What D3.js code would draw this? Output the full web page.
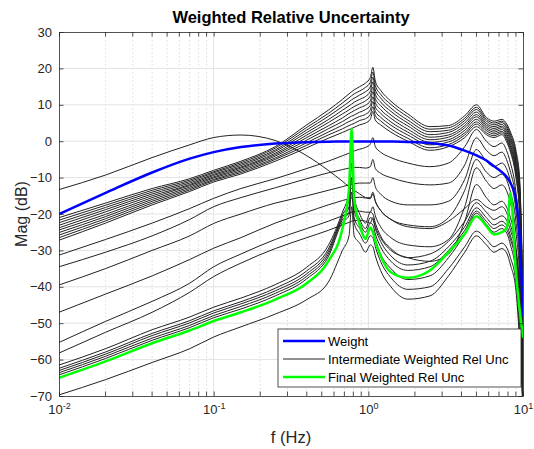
<!DOCTYPE html>
<meta charset="utf-8">
<script src="https://cdn.jsdelivr.net/npm/d3@7"></script>
<style type="text/css">
body { margin: 0; background: #fff; }
text { font-family: "Liberation Sans", Arial, Helvetica, sans-serif; }
.axis path, .axis line { stroke: #262626; stroke-width: 0.8; }
.axis text { fill: #262626; font-size: 13px; }
.grid-major { stroke: #e3e3e3; stroke-width: 1; }
.grid-minor { stroke: #d4d4d4; stroke-width: 0.8; stroke-dasharray: 1.5,2.5; }
path.inter { fill: none; stroke: #222; stroke-width: 1; }
path.weight { fill: none; stroke: #0000ff; stroke-width: 2.5; }
path.final { fill: none; stroke: #00ff00; stroke-width: 2.5; }
</style>
<body>
<div id="container"></div>
<script>

//-----------------------------DATA-----------------------------//
// frequency grid (Hz), shared by every curve
var freq = [0.01, 0.02, 0.04, 0.07, 0.1, 0.15, 0.25, 0.4, 0.55, 0.68, 0.75, 0.78, 0.81, 0.88, 0.96, 1.03, 1.07, 1.11, 1.2, 1.4, 1.8, 2.5, 3.3, 4.2, 5.0, 5.8, 6.5, 7.3, 7.9, 8.3, 9.0, 9.5, 10];

var weight = [-20, -14.2, -8.6, -4.8, -3, -1.6, -0.65, -0.26, -0.14, -0.09, -0.07, -0.06, -0.06, -0.05, -0.05, -0.05, -0.05, -0.05, -0.06, -0.1, -0.2, -0.5, -1.2, -2.6, -3.9, -5.3, -6.9, -8.5, -10, -11.5, -16, -26, -48];

var finalUnc = [-65, -60.5, -55.5, -52, -49.4, -47, -43.5, -39, -33, -24, -13, 3.5, -16, -23, -26.8, -23.7, -25, -27.5, -31.5, -36, -37.5, -35.5, -30.5, -25.5, -20.6, -23.3, -25.6, -25, -23.5, -14.2, -36, -46, -54];

// intermediate weighted rel unc, upper bundle
var inter01 = [-21, -17, -13, -10.3, -8, -5.5, -1.5, 4.5, 8.5, 11.5, 13, 13.6, 14.1, 15, 16, 17.5, 20.3, 16.5, 14, 11, 7.5, 4, 4.3, 7, 10, 6.5, 5.5, 6, 4.5, 2.5, -2.5, -10, -42];
var inter02 = [-21.7, -17.6, -13.5, -10.7, -8.4, -5.9, -1.9, 3.8, 7.6, 10.5, 11.9, 12.5, 13, 13.8, 14.8, 16.2, 19, 15.3, 12.9, 10.1, 6.7, 3.3, 3.7, 6.3, 9.3, 6, 5, 5.5, 3.9, 1.9, -3.3, -11.1, -44];
var inter03 = [-22.4, -18.2, -14, -11.1, -8.7, -6.3, -2.4, 3.1, 6.8, 9.5, 10.8, 11.4, 11.8, 12.7, 13.6, 14.9, 17.6, 14.1, 11.9, 9.1, 5.8, 2.6, 3, 5.7, 8.7, 5.5, 4.5, 5.1, 3.4, 1.3, -4.2, -12.2, -46];
var inter04 = [-23.1, -18.8, -14.5, -11.5, -9.1, -6.7, -2.8, 2.4, 5.9, 8.5, 9.7, 10.2, 10.7, 11.5, 12.3, 13.7, 16.3, 12.9, 10.8, 8.2, 5, 1.8, 2.4, 5, 8, 4.9, 4, 4.6, 2.8, 0.7, -5, -13.3, -48];
var inter05 = [-23.8, -19.4, -15, -11.9, -9.4, -7.1, -3.3, 1.7, 5.1, 7.5, 8.6, 9.1, 9.5, 10.3, 11.1, 12.4, 14.9, 11.7, 9.8, 7.2, 4.2, 1.1, 1.7, 4.3, 7.3, 4.4, 3.5, 4.1, 2.3, 0.1, -5.8, -14.4, -50];
var inter06 = [-24.4, -20.1, -15.5, -12.2, -9.8, -7.4, -3.7, 1, 4.2, 6.4, 7.6, 8, 8.4, 9.2, 9.9, 11.1, 13.6, 10.6, 8.7, 6.3, 3.3, 0.4, 1.1, 3.7, 6.7, 3.9, 3, 3.7, 1.7, -0.6, -6.7, -15.6, -52];
var inter07 = [-25.1, -20.7, -16, -12.6, -10.1, -7.8, -4.1, 0.3, 3.4, 5.4, 6.5, 6.9, 7.2, 8, 8.7, 9.8, 12.2, 9.4, 7.7, 5.3, 2.5, -0.3, 0.4, 3, 6, 3.4, 2.5, 3.2, 1.2, -1.2, -7.5, -16.7, -54];
var inter08 = [-25.8, -21.3, -16.5, -13, -10.5, -8.2, -4.6, -0.4, 2.5, 4.4, 5.4, 5.7, 6.1, 6.8, 7.4, 8.6, 10.9, 8.2, 6.6, 4.4, 1.7, -1, -0.2, 2.3, 5.3, 2.9, 2, 2.7, 0.6, -1.8, -8.3, -17.8, -56];
var inter09 = [-26.5, -21.9, -17, -13.4, -10.8, -8.6, -5, -1.1, 1.7, 3.4, 4.3, 4.6, 4.9, 5.7, 6.2, 7.3, 9.5, 7, 5.6, 3.4, 0.8, -1.8, -0.9, 1.7, 4.7, 2.3, 1.5, 2.3, 0.1, -2.4, -9.2, -18.9, -58];
var inter10 = [-27.2, -22.5, -17.5, -13.8, -11.2, -9, -5.5, -1.8, 0.8, 2.4, 3.2, 3.5, 3.8, 4.5, 5, 6, 8.2, 5.8, 4.5, 2.5, 0, -2.5, -1.5, 1, 4, 1.8, 1, 1.8, -0.5, -3, -10, -20, -60];

// the one that peaks near 0.12 Hz
var inter11 = [-13.3, -9.3, -4.5, -1, 1, 1.7, 0.2, -4, -8, -11, -12.5, -13, -13.5, -14.5, -15.5, -15.8, -14.5, -16.5, -19, -21.5, -23.5, -24, -22, -18.5, -16, -18, -19, -18, -20, -23, -30, -40, -60];

// middle group
var inter12 = [-31.3, -27, -22.5, -18.5, -15.7, -13, -10.3, -7.5, -5.5, -4, -3.3, -3, -2.7, -2.2, -1.7, -0.8, 1, -1.5, -3, -4.5, -6, -7, -6, -1.5, 3.2, 0, -1.5, -0.5, -3, -6, -14, -26, -62];
var inter13 = [-34.5, -30.5, -26, -21.5, -18, -15.5, -12.8, -10.3, -8.7, -7.8, -7.4, -7.3, -7.2, -7.2, -7.4, -7, -5, -7.5, -8.8, -10, -11.3, -12, -11.5, -6.5, 0.9, -2.5, -4, -3, -5.5, -8.5, -16, -28, -63];
var inter14 = [-39.5, -35, -30, -26, -22.6, -20, -17, -15, -13.5, -12.5, -12, -11.8, -11.7, -11.5, -11.5, -11.5, -10, -12.5, -14.5, -16.5, -17.5, -17.5, -16.5, -10.5, -2.3, -5.5, -7, -6, -8, -11, -19, -31, -65];
var inter15 = [-47, -42, -37, -32.5, -29.4, -26.5, -22.5, -19.5, -17.5, -16.3, -15.8, -15.6, -15.5, -15.4, -15.6, -15.5, -14, -16.5, -19, -21.5, -23, -23.5, -21, -13.5, -5, -8.5, -10, -9, -11, -14, -22, -34, -67];
var inter16 = [-55.3, -49.5, -44, -39, -34.5, -31, -27, -24, -22, -20.5, -19.8, -19.5, -19.3, -19.2, -19.5, -19.5, -18, -20.5, -23.5, -26.5, -28.5, -29, -27, -18, -7.3, -11, -13, -12, -14, -17, -25, -37, -69];
var inter17 = [-58.2, -52.5, -47, -41.5, -37.2, -33.5, -29.5, -26.5, -24.5, -23, -22.3, -22, -21.8, -21.7, -22, -22.5, -21, -23.5, -26.5, -30, -32, -33, -31, -22, -11.9, -15.5, -17.5, -16.5, -18.5, -21, -29, -41, -71];

// lower group, close to the final curve
var inter18 = [-61.5, -57, -51.8, -48.3, -45.6, -43.1, -39.4, -34.6, -28.7, -19.5, -14, 3, -15, -20, -22.5, -19.5, -20, -22.5, -26, -29.5, -32, -31, -27.5, -22, -16.9, -19.5, -21.5, -20.5, -22, -24.5, -31, -42, -64];
var inter19 = [-62.4, -57.9, -52.8, -49.3, -46.6, -44.1, -40.4, -35.6, -29.7, -20.3, -16, -2, -17, -21.5, -24, -21, -21.5, -24, -27.5, -31.5, -34, -33, -29, -23.5, -18.3, -21, -23, -22, -23.5, -26, -33, -44, -66];
var inter20 = [-63, -58.5, -53.4, -49.9, -47.2, -44.7, -41.1, -36.4, -30.4, -21, -18, -6, -19, -22.5, -25, -22.5, -23, -25.5, -29, -33, -35.5, -34.5, -30, -24.5, -19.2, -22, -24, -23, -24.5, -27, -34, -46, -67];
var inter21 = [-63.6, -59.1, -54.1, -50.6, -47.9, -45.4, -41.8, -37.1, -31.1, -21.6, -19.5, -10, -21, -24, -26.5, -24, -24.5, -27, -31, -35, -38, -37, -32, -25.5, -19.8, -22.8, -25, -24, -25.5, -28.5, -36, -48, -69];
var inter22 = [-64.2, -59.7, -54.7, -51.2, -48.5, -46.1, -42.5, -37.8, -31.8, -22.3, -20.5, -14, -22.5, -25.5, -28, -26, -26.5, -29, -33, -37.5, -40.7, -40, -35, -29, -24.7, -27, -29, -28, -29.5, -32, -39, -52, -72];
var inter23 = [-69.7, -65.5, -60.8, -57, -53.8, -51, -47.5, -43.5, -38.8, -30, -26, -18, -26, -28, -30.5, -28.5, -29, -31.5, -35.5, -40, -43.4, -42.5, -37, -30.5, -26, -28.5, -30.5, -29.5, -31, -34, -41, -55, -75];

var intermediate = [inter01, inter02, inter03, inter04, inter05, inter06, inter07, inter08, inter09, inter10,
    inter11, inter12, inter13, inter14, inter15, inter16, inter17,
    inter18, inter19, inter20, inter21, inter22, inter23];

var xMajor = [0.01, 0.1, 1, 10];
var yTicks = [-70, -60, -50, -40, -30, -20, -10, 0, 10, 20, 30];
var legendNames = ["Weight", "Intermediate Weighted Rel Unc", "Final Weighted Rel Unc"];

//----------------------------SCALES----------------------------//
var width = 534, height = 449;
var margin = {top: 32, right: 11, bottom: 53, left: 59};

var x = d3.scaleLog().domain([0.01, 10]).range([margin.left, width - margin.right]);
var y = d3.scaleLinear().domain([-70, 30]).range([height - margin.bottom, margin.top]);

var xMinor = [];
[0.01, 0.1, 1].forEach(function(d) {
    for (var k = 2; k <= 9; k++) xMinor.push(d * k);
});

var svg = d3.select("#container").append("svg")
    .attr("width", width)
    .attr("height", height);

svg.append("defs").append("clipPath").attr("id", "plotclip")
    .append("rect")
    .attr("x", x(0.01)).attr("y", y(30))
    .attr("width", x(10) - x(0.01)).attr("height", y(-70) - y(30));

//-----------------------------GRID-----------------------------//
svg.append("g").selectAll("line")
    .data(xMinor)
    .enter().append("line")
    .attr("class", "grid-minor")
    .attr("x1", function(d) { return x(d); }).attr("x2", function(d) { return x(d); })
    .attr("y1", y(30)).attr("y2", y(-70));

svg.append("g").selectAll("line")
    .data(xMajor.slice(1, 3))
    .enter().append("line")
    .attr("class", "grid-major")
    .attr("x1", function(d) { return x(d); }).attr("x2", function(d) { return x(d); })
    .attr("y1", y(30)).attr("y2", y(-70));

svg.append("g").selectAll("line")
    .data(yTicks.slice(1, -1))
    .enter().append("line")
    .attr("class", "grid-major")
    .attr("x1", x(0.01)).attr("x2", x(10))
    .attr("y1", function(d) { return y(d); }).attr("y2", function(d) { return y(d); });

//----------------------------LINES-----------------------------//
var line = d3.line()
    .x(function(d, i) { return x(freq[i]); })
    .y(function(d) { return y(d); })
    .curve(d3.curveMonotoneX);

var plot = svg.append("g").attr("clip-path", "url(#plotclip)");

plot.selectAll("path.inter")
    .data(intermediate)
    .enter().append("path")
    .attr("class", "inter")
    .attr("d", line);

plot.append("path").attr("class", "weight").attr("d", line(weight));
plot.append("path").attr("class", "final").attr("d", line(finalUnc));

//-----------------------------AXES-----------------------------//
var tk = 4.5;

var gx = svg.append("g")
    .attr("class", "axis")
    .attr("transform", "translate(0," + y(-70) + ")")
    .call(d3.axisBottom(x).tickValues(xMajor).tickSize(-tk).tickSizeOuter(0).tickPadding(9));

gx.selectAll(".tick text").each(function(d) {
    var t = d3.select(this).text("");
    t.append("tspan").text("10");
    t.append("tspan").attr("dy", "-0.55em").style("font-size", "9px").text(Math.round(Math.log10(d)));
});

gx.append("g").selectAll("line")
    .data(xMinor)
    .enter().append("line")
    .attr("x1", function(d) { return x(d); }).attr("x2", function(d) { return x(d); })
    .attr("y1", 0).attr("y2", -tk);

var gxTop = svg.append("g")
    .attr("class", "axis")
    .attr("transform", "translate(0," + y(30) + ")")
    .call(d3.axisTop(x).tickValues(xMajor).tickSize(-tk).tickSizeOuter(0).tickFormat(""));

gxTop.append("g").selectAll("line")
    .data(xMinor)
    .enter().append("line")
    .attr("x1", function(d) { return x(d); }).attr("x2", function(d) { return x(d); })
    .attr("y1", 0).attr("y2", tk);

svg.append("g")
    .attr("class", "axis")
    .attr("transform", "translate(" + x(0.01) + ",0)")
    .call(d3.axisLeft(y).tickValues(yTicks).tickSize(-tk).tickSizeOuter(0).tickPadding(7));

svg.append("g")
    .attr("class", "axis")
    .attr("transform", "translate(" + x(10) + ",0)")
    .call(d3.axisRight(y).tickValues(yTicks).tickSize(-tk).tickSizeOuter(0).tickFormat(""));

//----------------------------LABELS----------------------------//
var midX = (x(0.01) + x(10)) / 2;

svg.append("text")
    .attr("x", midX).attr("y", 23)
    .attr("text-anchor", "middle")
    .style("font-size", "16.5px").style("font-weight", "bold").style("fill", "#000")
    .text("Weighted Relative Uncertainty");

svg.append("text")
    .attr("x", midX).attr("y", 443)
    .attr("text-anchor", "middle")
    .style("font-size", "16.5px").style("fill", "#262626")
    .text("f (Hz)");

svg.append("text")
    .attr("transform", "translate(27," + ((y(30) + y(-70)) / 2) + ") rotate(-90)")
    .attr("text-anchor", "middle")
    .style("font-size", "16px").style("fill", "#262626")
    .text("Mag (dB)");

//----------------------------LEGEND----------------------------//
var legend = svg.append("g").attr("transform", "translate(278,329)");

legend.append("rect")
    .attr("width", 243).attr("height", 58)
    .style("fill", "#fff").style("stroke", "#262626").style("stroke-width", 0.8);

var legendClass = ["weight", "inter", "final"];
var rows = legend.selectAll("g.row")
    .data(legendNames)
    .enter().append("g")
    .attr("class", "row")
    .attr("transform", function(d, i) { return "translate(0," + (12 + i * 18) + ")"; });

rows.append("path")
    .attr("class", function(d, i) { return legendClass[i]; })
    .attr("d", "M5,0H47");

rows.append("text")
    .attr("x", 50).attr("dy", "0.35em")
    .style("font-size", "13px").style("fill", "#000")
    .text(function(d) { return d; });

</script>
</body>
